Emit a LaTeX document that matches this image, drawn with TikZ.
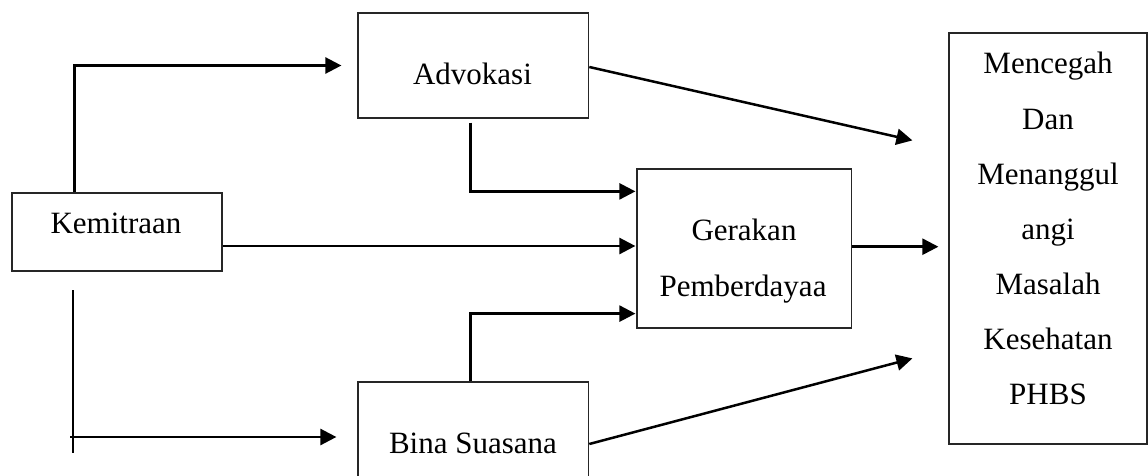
\documentclass[tikz,border=0pt]{standalone}
\usepackage{fontspec}
\setmainfont{Liberation Serif}
\usetikzlibrary{arrows.meta,calc}
\begin{document}
\begin{tikzpicture}[x=1pt,y=-1pt,
  box/.style={draw=black!85,line width=1.2pt,inner sep=0pt},
  conn/.style={line width=2.5pt,-{Triangle[length=16pt,width=16pt]}},
  plain/.style={line width=1.8pt},
  lbl/.style={anchor=base,inner sep=0pt,font=\fontsize{31}{37}\selectfont}]
\useasboundingbox (0,0) rectangle (1148,476);
\clip (0,0) rectangle (1148,476);
% boxes
\node[box,minimum width=210pt,minimum height=78pt] (kem) at (117,232) {};
\node[box,minimum width=230.7pt,minimum height=105pt] (adv) at (473.35,65.5) {};
\node[box,minimum width=214.7pt,minimum height=159pt] (ger) at (744.35,248.5) {};
\node[box,minimum width=230.7pt,minimum height=110pt] (bina) at (473.35,437) {};
\node[box,minimum width=198pt,minimum height=411pt] (res) at (1048,238.5) {};
% labels
\node[lbl] (tkem) at (116,233) {Kemitraan};
\node[lbl] (tadv) at (472.5,85) {Advokasi};
\node[lbl] (tger1) at (744,240.7) {Gerakan};
\node[lbl] (tger2) at (743,296.5) {Pemberdayaa};
\node[lbl] (tbina) at (473,453) {Bina Suasana};
\node[lbl] (r1) at (1048,74) {Mencegah};
\node[lbl] (r2) at (1048,129) {Dan};
\node[lbl] (r3) at (1048,184) {Menanggul};
\node[lbl] (r4) at (1048,239) {angi};
\node[lbl] (r5) at (1048,294) {Masalah};
\node[lbl] (r6) at (1048,349) {Kesehatan};
\node[lbl] (r7) at (1048,404) {PHBS};
% connectors
\draw[conn] ([xshift=63pt]kem.north west) |- ([xshift=-16pt]adv.west);
\draw[conn] ([yshift=-14pt]kem.east) -- ([xshift=-1pt,yshift=2.5pt]ger.west);
\coordinate (lt) at (73,290);
\coordinate (lb) at (73,453);
\coordinate (ls) at (70,437);
\draw[plain] (lt) -- (lb);
\draw[conn] (ls) -- ([xshift=-21pt]bina.west);
\draw[conn] ([xshift=-3pt,yshift=-4pt]adv.south) |- ([xshift=-1pt,yshift=-23pt]ger.north west);
\draw[conn] ([xshift=-3pt]bina.north) |- ([xshift=-1pt,yshift=15pt]ger.south west);
\draw[conn] ([yshift=1.8pt]ger.east) -- ($(res.west |- ger.east)+(-10,-1.8)$);
\draw[conn] ([yshift=-1.5pt]adv.east) -- ($(res.north west)+(-36,108)$);
\draw[conn] ([yshift=-7pt]bina.east) -- ($(res.north west)+(-36,326)$);
\end{tikzpicture}
\end{document}
